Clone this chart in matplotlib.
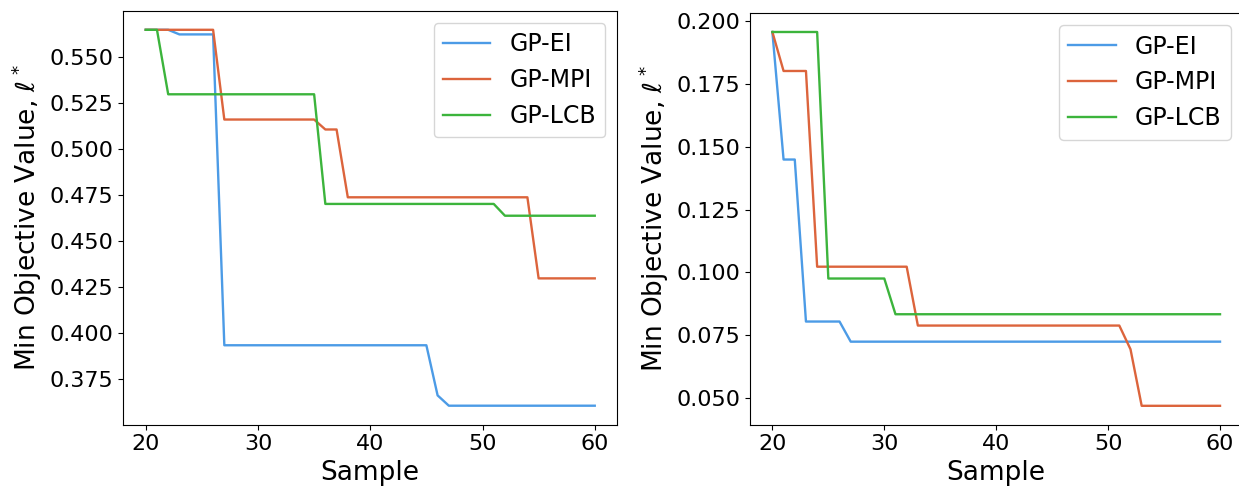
import matplotlib
matplotlib.use("Agg")
import matplotlib.pyplot as plt

samples = list(range(20, 61))

# left panel: min objective value per sample
left_ei = [0.5647] * 3 + [0.5622] * 4 + [0.3935] * 19 + [0.3663] + [0.3607] * 14
left_mpi = [0.5647] * 7 + [0.5160] * 9 + [0.5106] * 2 + [0.4738] * 17 + [0.4298] * 6
left_lcb = [0.5647] * 2 + [0.5297] * 14 + [0.4702] * 16 + [0.4638] * 9

# right panel
right_ei = [0.1956] + [0.1449] * 2 + [0.0805] * 4 + [0.0725] * 34
right_mpi = [0.1956] + [0.1801] * 3 + [0.1023] * 9 + [0.0789] * 19 + [0.0695] + [0.0470] * 8
right_lcb = [0.1956] * 5 + [0.0976] * 6 + [0.0834] * 30

labels = ["GP-EI", "GP-MPI", "GP-LCB"]
colors = ["#4C9BE6", "#DC643C", "#3CB43C"]

fig = plt.figure(figsize=(12.39, 4.88), dpi=100)
W, H = 1239, 488
ax1 = fig.add_axes([123.3 / W, (H - 424.5) / H, (617.2 - 123.3) / W, (424.5 - 11) / H])
# right panel runs a little past the figure edge, as in the original
ax2 = fig.add_axes([750 / W, (H - 424.5) / H, (1242.4 - 750) / W, (424.5 - 13.3) / H])

for ax, series in [(ax1, [left_ei, left_mpi, left_lcb]), (ax2, [right_ei, right_mpi, right_lcb])]:
    for ys, lab, c in zip(series, labels, colors):
        ax.plot(samples, ys, color=c, lw=1.7, label=lab)
    ax.set_xlabel("Sample", fontsize=19)
    ax.set_ylabel(r"Min Objective Value, $\ell^*$", fontsize=19)
    ax.tick_params(labelsize=16)
    ax.set_xticks([20, 30, 40, 50, 60])
    ax.legend(loc="upper right", fontsize=17)

ax2.spines["right"].set_visible(False)

ax1.set_yticks([0.375, 0.400, 0.425, 0.450, 0.475, 0.500, 0.525, 0.550])
ax2.set_yticks([0.050, 0.075, 0.100, 0.125, 0.150, 0.175, 0.200])
ax1.yaxis.set_major_formatter(matplotlib.ticker.FormatStrFormatter("%.3f"))
ax2.yaxis.set_major_formatter(matplotlib.ticker.FormatStrFormatter("%.3f"))

fig.savefig("out.png", dpi=100)
